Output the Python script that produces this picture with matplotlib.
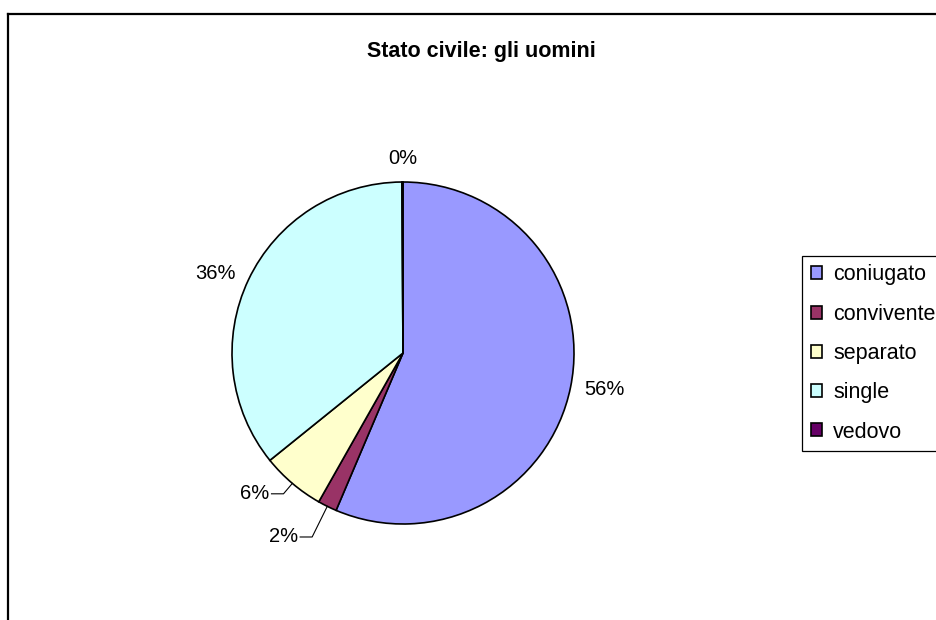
import numpy as np
import matplotlib
matplotlib.use("Agg")
import matplotlib.pyplot as plt
from matplotlib.lines import Line2D

plt.rcParams['font.family'] = ['Liberation Sans', 'DejaVu Sans']

# dati
categorie = ['coniugato', 'convivente', 'separato', 'single', 'vedovo']
percentuali = [56.4, 1.8, 6.0, 35.7, 0.1]
colori = ['#9999FF', '#993366', '#FFFFCC', '#CCFFFF', '#660066']
titolo = 'Stato civile: gli uomini'

W, H = 937, 620
fig = plt.figure(figsize=(W / 100, H / 100), dpi=100)
ax = fig.add_axes([0, 0, 1, 1])

# centro e raggio in pixel (y verso l'alto)
cx, cy, r = 403, H - 353, 171

wedges, _ = ax.pie(percentuali, colors=colori, startangle=90, counterclock=False,
                   center=(cx, cy), radius=r,
                   wedgeprops=dict(edgecolor='black', linewidth=1.2))
ax.set_xlim(0, W)
ax.set_ylim(0, H)
ax.set_aspect('equal')
ax.axis('off')

# etichette percentuali
tot = sum(percentuali)
j = 0
for w, p in zip(wedges, percentuali):
    ang = np.deg2rad((w.theta1 + w.theta2) / 2)
    testo = '%.0f%%' % (p / tot * 100)
    c, s = np.cos(ang), np.sin(ang)
    if p / tot < 0.1 and p / tot > 0.005:
        # etichetta con linea guida
        rl = 1.2 - 0.12 * j
        j += 1
        ex, ey = cx + r * c, cy + r * s
        bx, by = cx + rl * r * c, cy + rl * r * s
        ax.add_line(Line2D([ex, bx, bx - 12], [ey, by, by], color='black', lw=0.8))
        ax.text(bx - 14, by, testo, ha='right', va='center', fontsize=14.5)
    else:
        px, py = cx + 1.08 * r * c, cy + 1.08 * r * s
        ha = 'left' if c > 0.3 else ('right' if c < -0.3 else 'center')
        va = 'bottom' if s > 0.7 else ('top' if s < -0.7 else 'center')
        ax.text(px, py, testo, ha=ha, va=va, fontsize=14.5)

# titolo
fig.text(481 / W, 1 - 52 / H, titolo, ha='center', va='center',
         fontsize=15.5, fontweight='bold')

# legenda
leg = ax.legend(wedges, categorie, loc='center left',
                bbox_to_anchor=(802 / W, 1 - 353.5 / H), bbox_transform=fig.transFigure,
                fontsize=15.5, frameon=True, fancybox=False, framealpha=1,
                edgecolor='black', handlelength=0.55, handleheight=0.55,
                handletextpad=0.5, labelspacing=0.85, borderpad=0.4,
                borderaxespad=0)
leg.get_frame().set_linewidth(0.9)

# cornice del grafico
fig.add_artist(Line2D([8 / W, 8 / W], [0, 1 - 14 / H], color='black', lw=1.6))
fig.add_artist(Line2D([8 / W, 1], [1 - 14 / H, 1 - 14 / H], color='black', lw=1.6))

fig.savefig('out.png', dpi=100)
